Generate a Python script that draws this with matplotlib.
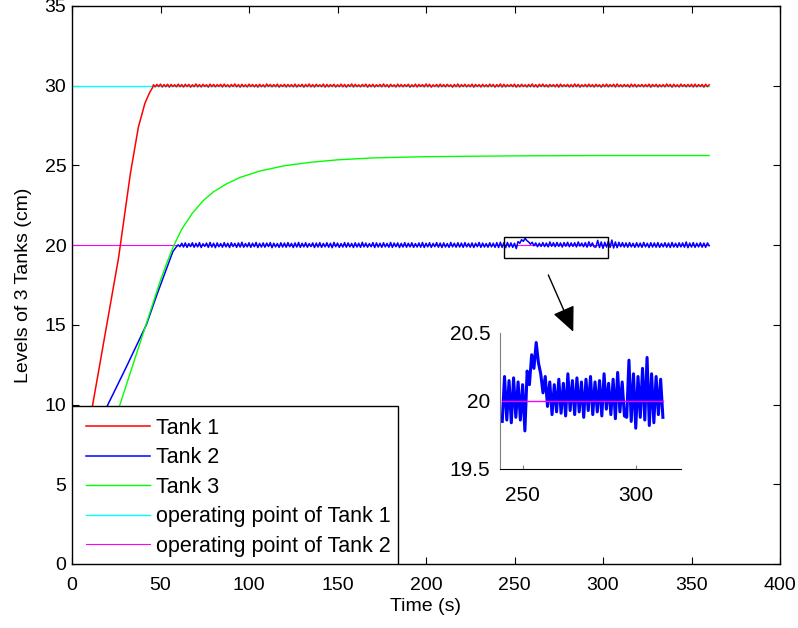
import numpy as np
import matplotlib
matplotlib.use('Agg')
import matplotlib.pyplot as plt
from matplotlib.patches import Rectangle

plt.rcParams['font.family'] = ['Liberation Sans', 'DejaVu Sans']
plt.rcParams['font.size'] = 14

# --- data ---
# Tank 1: ramp up to the 30 cm operating point, then small ripple
tank1_ramp_t = [0, 11.7, 26.3, 33.0, 37.5, 41.2, 44.0, 45.6]
tank1_ramp_y = [2.8, 10.0, 19.2, 24.5, 27.4, 28.9, 29.6, 29.9]
tank1_steady_t0 = 46
tank1_steady = [
    30.06, 29.93, 30.08, 29.95, 30.10, 29.92, 30.07, 29.94, 30.09, 29.91, 30.08, 29.95, 30.06, 29.93, 30.10, 29.94, 30.07, 29.92, 30.09, 29.95,
    30.08, 29.91, 30.06, 29.94, 30.11, 29.93, 30.07, 29.92, 30.09, 29.95, 30.06, 29.91, 30.10, 29.94, 30.08, 29.93, 30.07, 29.95, 30.09, 29.92,
    30.10, 29.94, 30.06, 29.92, 30.08, 29.95, 30.11, 29.93, 30.07, 29.91, 30.09, 29.94, 30.06, 29.92, 30.10, 29.95, 30.08, 29.93, 30.07, 29.91,
    30.09, 29.94, 30.06, 29.92, 30.11, 29.95, 30.08, 29.93, 30.07, 29.94, 30.10, 29.91, 30.06, 29.95, 30.09, 29.92, 30.08, 29.94, 30.07, 29.93,
    30.10, 29.92, 30.06, 29.95, 30.09, 29.91, 30.08, 29.94, 30.11, 29.93, 30.07, 29.92, 30.09, 29.95, 30.06, 29.94, 30.10, 29.91, 30.08, 29.93,
    30.07, 29.95, 30.09, 29.92, 30.06, 29.94, 30.10, 29.93, 30.08, 29.91, 30.07, 29.95, 30.11, 29.92, 30.09, 29.94, 30.06, 29.93, 30.08, 29.95,
    30.10, 29.91, 30.07, 29.94, 30.09, 29.92, 30.06, 29.95, 30.08, 29.93, 30.11, 29.94, 30.07, 29.91, 30.09, 29.95, 30.06, 29.92, 30.10, 29.94,
    30.08, 29.93, 30.07, 29.95, 30.09, 29.91, 30.06, 29.94, 30.10, 29.92, 30.08, 29.95, 30.07, 29.93, 30.11, 29.94, 30.09, 29.91, 30.06, 29.95,
    30.08, 29.92, 30.10, 29.94, 30.07, 29.93, 30.09, 29.95, 30.06, 29.91, 30.08, 29.94, 30.11, 29.92, 30.07, 29.95, 30.09, 29.93, 30.06, 29.94,
    30.10, 29.91, 30.08, 29.95, 30.07, 29.92, 30.09, 29.94, 30.06, 29.93, 30.10, 29.95, 30.08, 29.91, 30.07, 29.94, 30.11, 29.92, 30.09, 29.93,
    30.06, 29.95, 30.08, 29.94, 30.10, 29.91, 30.07, 29.93, 30.09, 29.95, 30.06, 29.92, 30.08, 29.94, 30.11, 29.93, 30.07, 29.91, 30.09, 29.95,
    30.10, 29.94, 30.06, 29.92, 30.08, 29.95, 30.07, 29.93, 30.09, 29.91, 30.10, 29.94, 30.06, 29.95, 30.08, 29.92, 30.07, 29.93, 30.11, 29.94,
    30.09, 29.91, 30.06, 29.95, 30.08, 29.93, 30.10, 29.94, 30.07, 29.92, 30.09, 29.95, 30.06, 29.91, 30.08, 29.94, 30.10, 29.93, 30.07, 29.95,
    30.09, 29.92, 30.11, 29.94, 30.06, 29.93, 30.08, 29.95, 30.07, 29.91, 30.10, 29.94, 30.09, 29.92, 30.06, 29.95, 30.08, 29.93, 30.07, 29.94,
    30.10, 29.91, 30.08, 29.95, 30.09, 29.92, 30.06, 29.94, 30.07, 29.93, 30.11, 29.95, 30.08, 29.91, 30.09, 29.94, 30.06, 29.92, 30.10, 29.95,
    30.07, 29.93, 30.08, 29.94, 30.09, 29.92, 30.10, 29.93, 30.07, 29.95, 30.08, 29.91, 30.09, 29.94, 30.06,
]

# Tank 2: ramp up to the 20 cm operating point, ripple (with a bump near 255 s)
tank2_ramp_t = [0, 20.3, 30.0, 42.0, 48.0, 52.0, 55.4, 57.0, 59.0]
tank2_ramp_y = [5.4, 10.0, 12.2, 15.0, 16.9, 18.1, 19.1, 19.6, 19.9]
tank2_steady_t0 = 60
tank2_steady = [
    20.02, 19.90, 20.12, 19.88, 20.14, 19.86, 20.10, 19.91, 20.15, 19.87, 20.11, 19.89, 20.16, 19.85, 20.09, 19.92, 20.13, 19.86, 20.17, 19.88,
    20.12, 19.84, 20.14, 19.90, 20.10, 19.87, 20.16, 19.89, 20.12, 19.85, 20.15, 19.91, 20.11, 19.86, 20.14, 19.88, 20.18, 19.87, 20.10, 19.89,
    20.15, 19.86, 20.12, 19.90, 20.17, 19.85, 20.11, 19.88, 20.14, 19.87, 20.13, 19.91, 20.16, 19.84, 20.12, 19.89, 20.10, 19.86, 20.15, 19.88,
    20.13, 19.87, 20.16, 19.90, 20.11, 19.85, 20.14, 19.88, 20.17, 19.86, 20.12, 19.89, 20.15, 19.87, 20.10, 19.91, 20.14, 19.85, 20.13, 19.88,
    20.16, 19.86, 20.11, 19.89, 20.15, 19.87, 20.12, 19.84, 20.17, 19.90, 20.13, 19.86, 20.10, 19.88, 20.16, 19.87, 20.14, 19.89, 20.11, 19.85,
    20.15, 19.88, 20.12, 19.86, 20.18, 19.89, 20.13, 19.87, 20.10, 19.90, 20.16, 19.85, 20.14, 19.88, 20.12, 19.86, 20.15, 19.89, 20.11, 19.87,
    20.17, 19.86, 20.13, 19.90, 20.14, 19.85, 20.11, 19.88, 20.16, 19.87, 20.12, 19.89, 20.15, 19.86, 20.10, 19.88, 20.14, 19.87, 20.17, 19.85,
    20.12, 19.89, 20.15, 19.86, 20.11, 19.90, 20.16, 19.87, 20.13, 19.85, 20.14, 19.88, 20.10, 19.86, 20.17, 19.89, 20.12, 19.87, 20.15, 19.88,
    20.13, 19.86, 20.16, 19.89, 20.11, 19.87, 20.14, 19.85, 20.12, 19.90, 20.17, 19.86, 20.13, 19.88, 20.10, 19.87, 20.15, 19.89, 20.12, 19.86,
    20.16, 19.85, 20.18, 19.86, 20.15, 19.84, 20.17, 19.88, 20.14, 19.86, 20.12, 19.78, 20.22, 20.12, 20.34, 20.24, 20.43, 20.28, 20.20, 20.06,
    20.18, 19.96, 20.14, 19.90, 20.12, 19.92, 20.16, 19.91, 20.13, 19.89, 20.20, 19.93, 20.15, 19.90, 20.17, 19.92, 20.14, 19.88, 20.16, 19.93,
    20.18, 19.90, 20.14, 19.92, 20.15, 19.89, 20.20, 19.94, 20.13, 19.90, 20.16, 19.87, 20.21, 19.92, 20.14, 19.89, 19.88, 20.30, 19.85, 20.20,
    19.80, 20.18, 19.88, 20.24, 19.86, 20.32, 19.82, 20.20, 19.84, 20.18, 19.90, 20.16, 19.88, 20.14, 19.87, 20.16, 19.89, 20.12, 19.86, 20.15,
    19.88, 20.13, 19.86, 20.17, 19.89, 20.12, 19.85, 20.15, 19.88, 20.14, 19.87, 20.16, 19.86, 20.11, 19.89, 20.15, 19.87, 20.13, 19.85, 20.17,
    19.88, 20.12, 19.86, 20.15, 19.89, 20.14, 19.87, 20.20, 19.84, 20.13, 19.88, 20.16, 19.86, 20.12, 19.89, 20.15, 19.87, 20.13, 19.86, 20.14,
    19.96,
]

# Tank 3: smooth first-order style rise
tank3_t = [0, 27.1, 40, 50, 54, 57.2, 62, 68, 74.2, 80, 87.4, 95, 106.2, 120, 135, 150, 170, 200, 250, 300, 360]
tank3_y = [0.9, 10.0, 14.4, 17.8, 19.0, 19.9, 21.0, 22.0, 22.8, 23.35, 23.85, 24.25, 24.65, 24.98, 25.2, 25.35, 25.47, 25.55, 25.6, 25.62, 25.62]

op1_level = 30
op2_level = 20
t_end = 360

# time window shown in the inset
inset_t_start = 241
inset_t_end = 312

labels = ['Tank 1', 'Tank 2', 'Tank 3',
          'operating point of Tank 1', 'operating point of Tank 2']

# --- assemble series ---
t1 = np.concatenate([tank1_ramp_t, tank1_steady_t0 + np.arange(len(tank1_steady))])
y1 = np.concatenate([tank1_ramp_y, tank1_steady])
t2 = np.concatenate([tank2_ramp_t, tank2_steady_t0 + np.arange(len(tank2_steady))])
y2 = np.concatenate([tank2_ramp_y, tank2_steady])

fig = plt.figure(figsize=(7.98, 6.28), dpi=100)
ax = fig.add_axes([72 / 798, 1 - 564 / 628, 708 / 798, 558 / 628])

l1, = ax.plot(t1, y1, color='#ff0000', lw=1.1, zorder=3)
l2, = ax.plot(t2, y2, color='#0000ff', lw=1.1, zorder=3)
l3, = ax.plot(tank3_t, tank3_y, color='#00ff00', lw=1.0, zorder=3)
l4, = ax.plot([0, t_end], [op1_level, op1_level], color='#00ffff', lw=1.0, zorder=2)
l5, = ax.plot([0, t_end], [op2_level, op2_level], color='#ff00ff', lw=0.8, zorder=2)

ax.set_xlim(0, 400)
ax.set_ylim(0, 35)
ax.set_xticks(np.arange(0, 401, 50))
ax.set_yticks(np.arange(0, 36, 5))
ax.tick_params(direction='in', length=5, width=0.8, top=True, right=True, labelsize=14)
ax.tick_params(axis='x', pad=9)
ax.tick_params(axis='y', pad=4)
for s in ax.spines.values():
    s.set_linewidth(1.0)
ax.set_xlabel('Time (s)', fontsize=14, labelpad=3)
ax.set_ylabel('Levels of 3 Tanks (cm)', fontsize=14, labelpad=9)

# legend box (MATLAB style: wide left margin, tight right margin)
ax.add_patch(Rectangle((0, 0), 326 / 708, 158 / 558, transform=ax.transAxes,
                       facecolor='white', edgecolor='black', lw=1.0, zorder=4.5))
leg = ax.legend([l1, l2, l3, l4, l5], labels, loc='upper left',
                bbox_to_anchor=(14 / 708, 146 / 558), borderaxespad=0, borderpad=0,
                frameon=False, fontsize=15.5, handlelength=2.95, handletextpad=0.32,
                labelspacing=0.39)
leg.set_zorder(5)

# zoom window and arrow
ax.add_patch(Rectangle((244.1, 19.18), 58.9, 1.32, fill=False, edgecolor='black', lw=1.0, zorder=4))
ax.annotate('', xy=(283.2, 14.57), xytext=(269.1, 18.13),
            arrowprops=dict(arrowstyle='-|>,head_length=1.1,head_width=0.5', color='black',
                            lw=1.0, shrinkA=0, shrinkB=0))

# inset
mask = (t2 >= inset_t_start) & (t2 <= inset_t_end)
axi = fig.add_axes([500 / 798, 1 - 469 / 628, 181 / 798, 136 / 628])
axi.plot(t2[mask], y2[mask], color='#0000ff', lw=2.2)
axi.plot([inset_t_start, inset_t_end], [op2_level, op2_level], color='#ff00ff', lw=1.0)
axi.set_xlim(240, 320)
axi.set_ylim(19.5, 20.5)
axi.set_xticks([250, 300])
axi.set_yticks([19.5, 20, 20.5])
axi.set_yticklabels(['19.5', '20', '20.5'])
axi.spines['top'].set_visible(False)
axi.spines['right'].set_visible(False)
axi.spines['left'].set_color('#808080')
axi.tick_params(axis='x', direction='in', length=3, color='#808080', labelsize=15, pad=12)
axi.tick_params(axis='y', direction='in', length=0, labelsize=15, pad=7)

fig.savefig('out.png', dpi=100)
